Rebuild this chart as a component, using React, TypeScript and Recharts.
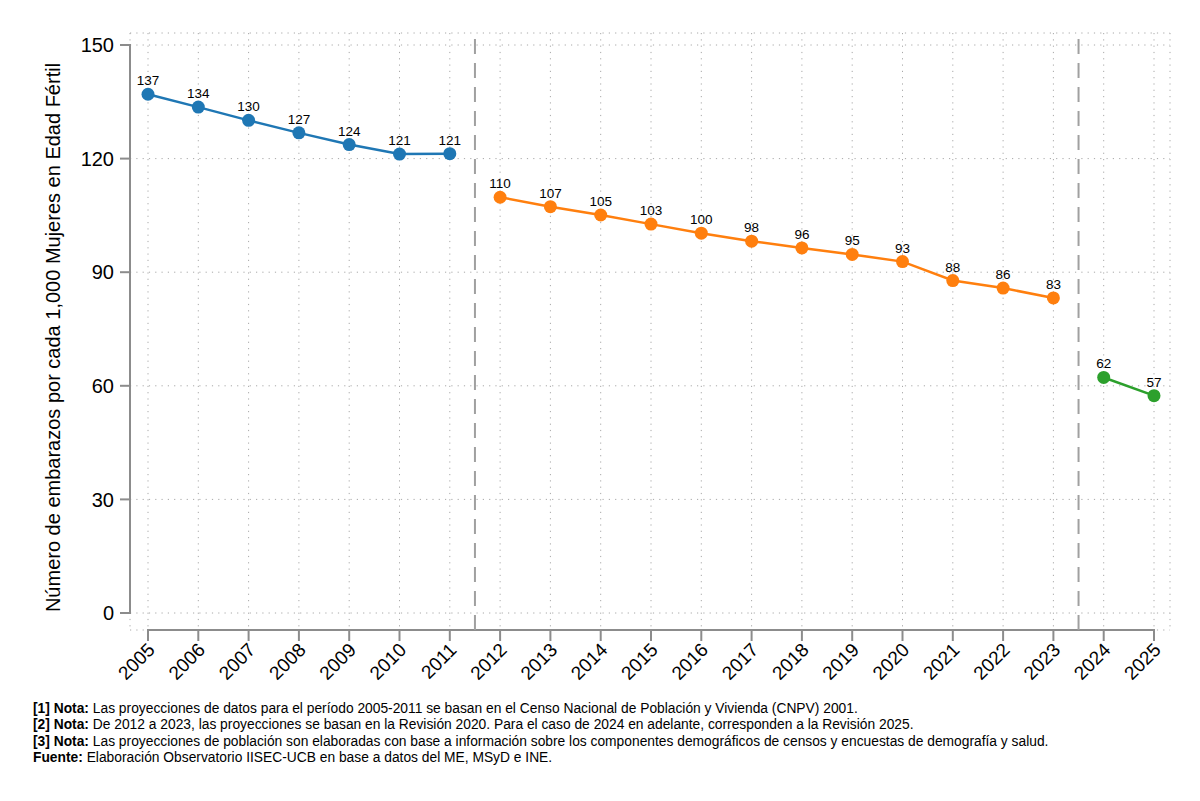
import { LineChart, Line, XAxis, YAxis, CartesianGrid, ReferenceLine, LabelList } from 'recharts';

const FONT = "'Liberation Sans Narrow', 'Arial Narrow', 'Liberation Sans', Arial, sans-serif";

const years1 = [2005, 2006, 2007, 2008, 2009, 2010, 2011];
const values1 = [137.0, 133.6, 130.1, 126.8, 123.7, 121.2, 121.3];

const years2 = [2012, 2013, 2014, 2015, 2016, 2017, 2018, 2019, 2020, 2021, 2022, 2023];
const values2 = [109.8, 107.3, 105.1, 102.7, 100.3, 98.2, 96.4, 94.7, 92.8, 87.8, 85.8, 83.2];

const years3 = [2024, 2025];
const values3 = [62.2, 57.4];

const xTicks = [2005, 2006, 2007, 2008, 2009, 2010, 2011, 2012, 2013, 2014, 2015, 2016, 2017, 2018, 2019, 2020, 2021, 2022, 2023, 2024, 2025];
const yTicks = [0, 30, 60, 90, 120, 150];
const breaks = [2011.5, 2023.5];

const notes = [
  ['[1] Nota:', ' Las proyecciones de datos para el período 2005-2011 se basan en el Censo Nacional de Población y Vivienda (CNPV) 2001.'],
  ['[2] Nota:', ' De 2012 a 2023, las proyecciones se basan en la Revisión 2020. Para el caso de 2024 en adelante, corresponden a la Revisión 2025.'],
  ['[3] Nota:', ' Las proyecciones de población son elaboradas con base a información sobre los componentes demográficos de censos y encuestas de demografía y salud.'],
  ['Fuente:', ' Elaboración Observatorio IISEC-UCB en base a datos del ME, MSyD e INE.'],
];

const toRows = (years: number[], values: number[]) => years.map((year, i) => ({ year, value: values[i] }));

const series = [
  { key: 's1', data: toRows(years1, values1), color: '#1f77b4' },
  { key: 's2', data: toRows(years2, values2), color: '#ff7f0e' },
  { key: 's3', data: toRows(years3, values3), color: '#2ca02c' },
];

const PAD_LEFT = 18;
const PAD_BOTTOM = 17;
const AXIS_COLOR = '#8c8c8c';

// eslint-disable-next-line @typescript-eslint/no-explicit-any
function XTick({ x, y, payload }: any) {
  return (
    <text
      x={x + 8}
      y={y + 8}
      transform={`rotate(-45, ${x + 8}, ${y + 8})`}
      textAnchor="end"
      fontSize={19}
      fontFamily={FONT}
      fill="#000"
    >
      {payload.value}
    </text>
  );
}

// eslint-disable-next-line @typescript-eslint/no-explicit-any
function YTitle({ viewBox }: any) {
  const cx = 45;
  const cy = viewBox.y + PAD_BOTTOM / 2 + (viewBox.height - PAD_BOTTOM) / 2 + 6;
  return (
    <text
      x={cx}
      y={cy}
      transform={`rotate(-90, ${cx}, ${cy})`}
      textAnchor="middle"
      dominantBaseline="central"
      fontSize={20}
      fontFamily={FONT}
      fill="#000"
    >
      Número de embarazos por cada 1,000 Mujeres en Edad Fértil
    </text>
  );
}

export default function App() {
  return (
    <div style={{ position: 'relative', width: 1184, height: 785, fontFamily: FONT }}>
      <LineChart width={1184} height={690} margin={{ top: 25, right: 22, left: 50, bottom: 0 }}>
        <CartesianGrid stroke="#a8a8a8" strokeDasharray="1.2 5.1" />
        <XAxis
          dataKey="year"
          type="number"
          domain={[2005, 2025]}
          ticks={xTicks}
          interval={0}
          padding={{ left: PAD_LEFT, right: 16 }}
          axisLine={false}
          tickLine={{ stroke: AXIS_COLOR, strokeWidth: 2 }}
          tickSize={11}
          height={68}
          tick={<XTick />}
          allowDuplicatedCategory={false}
        />
        <YAxis
          type="number"
          domain={[0, 150]}
          ticks={yTicks}
          padding={{ top: 12, bottom: PAD_BOTTOM }}
          width={72}
          axisLine={false}
          tickLine={{ stroke: AXIS_COLOR, strokeWidth: 2 }}
          tickSize={10}
          tickMargin={6}
          tick={{ fontSize: 20, fill: '#000', fontFamily: FONT }}
          label={{ content: <YTitle /> }}
        />

        {/* axis lines, Stata style: detached from each other */}
        <ReferenceLine
          segment={[{ x: 2005, y: 0 }, { x: 2005, y: 150 }]}
          // eslint-disable-next-line @typescript-eslint/no-explicit-any
          shape={(p: any) => (
            <line x1={p.x1 - PAD_LEFT} y1={p.y1 + 1} x2={p.x2 - PAD_LEFT} y2={p.y2 - 1} stroke={AXIS_COLOR} strokeWidth={2} />
          )}
        />
        <ReferenceLine
          segment={[{ x: 2005, y: 0 }, { x: 2025, y: 0 }]}
          // eslint-disable-next-line @typescript-eslint/no-explicit-any
          shape={(p: any) => (
            <line x1={p.x1 - 1} y1={p.y1 + PAD_BOTTOM} x2={p.x2 + 1} y2={p.y2 + PAD_BOTTOM} stroke={AXIS_COLOR} strokeWidth={2} />
          )}
        />

        {breaks.map((b) => (
          <ReferenceLine key={b} x={b} stroke="#a0a0a0" strokeWidth={2} strokeDasharray="15 9" />
        ))}

        {series.map((s) => (
          <Line
            key={s.key}
            data={s.data}
            dataKey="value"
            type="linear"
            stroke={s.color}
            strokeWidth={2.5}
            dot={{ r: 6.5, fill: s.color, stroke: 'none' }}
            activeDot={false}
            isAnimationActive={false}
          >
            <LabelList
              dataKey="value"
              position="top"
              offset={9}
              formatter={(v: number) => Math.round(v)}
              style={{ fontSize: 13.5, fill: '#000', fontFamily: FONT }}
            />
          </Line>
        ))}
      </LineChart>
      <div style={{ position: 'absolute', left: 25, top: 693, fontSize: 13.8, lineHeight: '16.4px', color: '#000', whiteSpace: 'nowrap' }}>
        {notes.map(([head, body]) => (
          <div key={head}>
            <b>{head}</b>
            {body}
          </div>
        ))}
      </div>
    </div>
  );
}
